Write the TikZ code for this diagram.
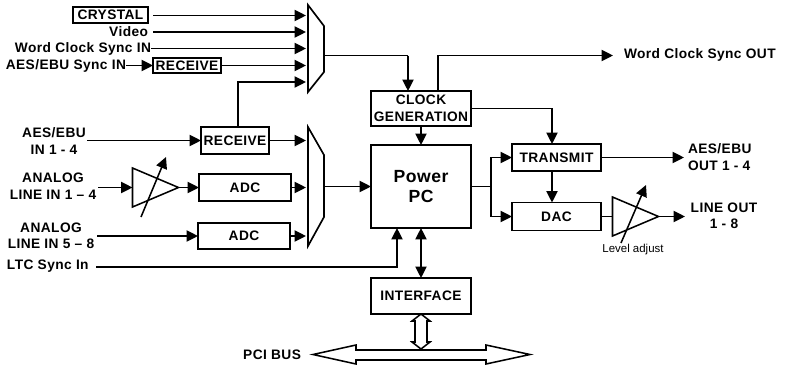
\documentclass[tikz,border=0pt]{standalone}
\usepackage{fontspec}
\setmainfont{Liberation Sans}
\usetikzlibrary{arrows.meta,calc}
\tikzset{
  lab/.style={inner sep=0pt,outer sep=0pt,font=\fontsize{10.3}{12.4}\selectfont\bfseries\addfontfeatures{LetterSpace=3},align=center},
  blockbox/.style={draw,line width=1.25pt,inner sep=0pt,outer sep=0pt,font=\fontsize{10.3}{12.8}\selectfont\bfseries\addfontfeatures{LetterSpace=3},align=center},
  wire/.style={line width=1.25pt,-{Triangle[length=8.6pt,width=8.4pt]}},
  plainwire/.style={line width=1.25pt},
  dualwire/.style={line width=1.25pt,{Triangle[length=8.6pt,width=8.4pt]}-{Triangle[length=8.6pt,width=8.4pt]}},
  part/.style={draw,line width=1.15pt,line join=miter},
}
\newcommand{\boxat}[6]{\node[blockbox,minimum width=#4*0.75pt,minimum height=#5*0.75pt] (#1) at (#2,#3) {#6};}
\begin{document}
\begin{tikzpicture}[x=0.75pt,y=-0.75pt]
\useasboundingbox (0,0) rectangle (786,365);
% blocks
\boxat{crystal}{110.5}{15}{75}{15.5}{CRYSTAL}
\boxat{rxa}{187}{65.5}{68}{15}{RECEIVE}
\boxat{rxb}{235}{140.5}{68}{27}{RECEIVE}
\boxat{adca}{245}{187.5}{92}{27}{ADC}
\boxat{adcb}{244}{236}{92}{26.5}{ADC}
\boxat{clk}{421}{108.5}{100}{35}{CLOCK\\GENERATION}
\boxat{ppc}{421}{186.5}{100}{83}{\fontsize{13.2}{15}\selectfont\bfseries Power\\[1.5pt]\fontsize{13.2}{15}\selectfont\bfseries PC}
\boxat{iface}{421}{296}{100}{36}{INTERFACE}
\boxat{tx}{556.5}{157.5}{89}{27}{TRANSMIT}
\boxat{dac}{556.5}{216.5}{89}{28}{DAC}
% muxes
\draw[part,line width=1.25pt] (308,5) coordinate (ma) -- (324,26) -- (324,72) -- (308,92) -- cycle;
\draw[part,line width=1.25pt] (308,127) coordinate (mb) -- (324,155) -- (324,217) -- (308,246) -- cycle;
\coordinate (mao) at (324,55.5);
\coordinate (mbo) at (324,186.5);
% amplifiers
\draw[part] (132.5,168) coordinate (aa) -- (178.5,187.5) coordinate (aao) -- (132.5,207) -- cycle;
\coordinate (aai) at (132.5,187.5);
\draw[part] (612.5,197) coordinate (ab) -- (658.5,216.5) coordinate (abo) -- (612.5,236) -- cycle;
\coordinate (abi) at (612.5,216.5);
\coordinate (sa1) at (141,217); \coordinate (sa2) at (166,157);
\coordinate (sb1) at (621,243); \coordinate (sb2) at (646,185);
\draw[wire,line width=1.15pt] (sa1) -- (sa2);
\draw[wire,line width=1.15pt] (sb1) -- (sb2);
% labels
\node[lab,anchor=east] (video) at (148,32) {Video};
\node[lab,anchor=east] (wcin) at (151,48.5) {Word Clock Sync IN};
\node[lab,anchor=east] (aesin) at (126,65.5) {AES/EBU Sync IN};
\node[lab] (aes14) at (54,141) {AES/EBU\\IN 1 - 4};
\node[lab] (an14) at (53,186) {ANALOG\\LINE IN 1 -- 4};
\node[lab] (an58) at (51,236) {ANALOG\\LINE IN 5 -- 8};
\node[lab,anchor=west] (ltc) at (7,266.5) {LTC Sync In};
\node[lab,anchor=west] (wcout) at (624,55) {Word Clock Sync OUT};
\node[lab,align=left,anchor=west] (aesout) at (688,157) {AES/EBU\\OUT 1 - 4};
\node[lab] (lineout) at (724,216) {LINE OUT\\1 - 8};
\node[lab,anchor=east] (pci) at (301,354.5) {PCI BUS};
\node[inner sep=0pt,font=\fontsize{8.6}{9}\selectfont] (lvl) at (633,250) {Level adjust};
% connectors top
\coordinate (wcoutend) at (613,55.5);
\draw[wire] (153,15.5) coordinate (c0) -- (306,15.5) coordinate (m1);
\draw[wire] (153,32) coordinate (v0) -- (306,32) coordinate (m2);
\draw[wire] (wcin.east) -- (306,48.5) coordinate (m3);
\draw[wire] (aesin.east) -- (rxa.west);
\draw[wire] (rxa.east) -- (306,65.5) coordinate (m4);
\draw[wire] (238,127) -- (238,82) -- (306,82) coordinate (m5);
\draw[wire] (87,140.5) coordinate (aesa) -- (rxb.west);
\draw[wire] (rxb.east) -- (306,140.5) coordinate (m6);
\draw[wire] (98,187.5) coordinate (ana) -- (aai);
\draw[wire] (aao) -- (adca.west);
\draw[wire] (adca.east) -- (306,187.5);
\draw[wire] (97,236) coordinate (anb) -- (adcb.west);
\draw[wire] (adcb.east) -- (306,236);
\draw[wire] (mbo) -- (ppc.west);
\draw[plainwire] (mao) -- (408,55.5) coordinate (c1);
\draw[wire] (c1) -- (clk.north -| c1);
\draw[wire] (clk.north -| 438,0) -- (438,55.5) -- (wcoutend);
\draw[wire] (clk.east) -- (552,108.5) -- (tx.north -| 552,0);
\draw[wire] (clk.south) -- (ppc.north);
\draw[wire] (ppc.east) -- (491,186.5) -- (491,157.5) -- (tx.west);
\draw[wire] (491,186.5) -- (491,216.5) -- (dac.west);
\draw[wire] (tx.east) -- (684,157.5) coordinate (txo);
\draw[wire] (tx.south -| 552,0) -- (dac.north -| 552,0);
\draw[plainwire] (dac.east) -- (abi);
\draw[wire] (abo) -- (685,216.5);
\draw[wire] (96,267) coordinate (ltcs) -- (397,267) -- (ppc.south -| 397,0);
\draw[dualwire] (ppc.south) -- (iface.north);
% hollow arrows
\draw[part,fill=white] (iface.south) -- (430,321) -- (427,321) -- (427,342) -- (430,342) -- (421,349) coordinate (busn) -- (412,342) -- (415,342) -- (415,321) -- (412,321) -- cycle;
\draw[part,fill=white] (313,354.5) -- (356,345) -- (356,350) -- (486,350) -- (486,345) -- (530,354.5) -- (486,364) -- (486,360) -- (356,360) -- (356,364) -- cycle;
\end{tikzpicture}
\end{document}
